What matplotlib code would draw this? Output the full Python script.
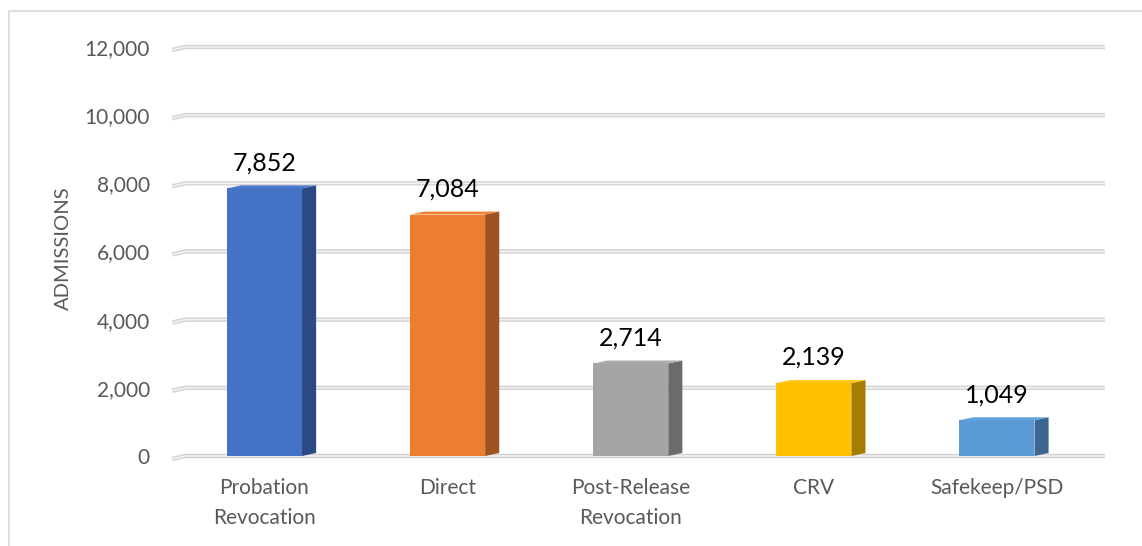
import matplotlib
matplotlib.use("Agg")
import matplotlib.pyplot as plt
from matplotlib.patches import Polygon, Rectangle

categories = ["Probation\nRevocation", "Direct", "Post-Release\nRevocation", "CRV", "Safekeep/PSD"]
admissions = [7852, 7084, 2714, 2139, 1049]
front_colors = ["#4472C4", "#ED7D31", "#A5A5A5", "#FFC000", "#5B9BD5"]
side_colors = ["#2B4A85", "#9E5220", "#6B6B6B", "#A67D00", "#3A6690"]
top_colors = ["#4A78CC", "#F0853A", "#ADADAD", "#FFC512", "#63A2DA"]
y_ticks = [0, 2000, 4000, 6000, 8000, 10000, 12000]

plt.rcParams["font.family"] = ["Lato", "DejaVu Sans"]

W, H = 1142, 546
fig = plt.figure(figsize=(W / 100, H / 100), dpi=100)
ax = fig.add_axes([172 / W, (H - 456) / H, (1105 - 172) / W, (456 - 47) / H])
x_lo, x_hi = -0.505, 4.59
ax.set_xlim(x_lo, x_hi)
ax.set_ylim(0, 12000)

# 3D-ish geometry (data units)
bw = 0.41      # front face width
dx = 0.077     # depth, horizontal
dy = 88        # depth, vertical
wall = -0.434  # where the back wall begins

grid_c = "#d4d4d4"
for t in y_ticks:
    ax.plot([x_lo, wall, x_hi], [t - dy, t, t], color=grid_c, lw=3.2,
            solid_capstyle="butt", zorder=1, clip_on=False)
    ax.plot([x_lo, wall, x_hi], [t - dy, t, t], color="#f3f3f3", lw=1.1,
            solid_capstyle="butt", zorder=1.1, clip_on=False)

for i, v in enumerate(admissions):
    x0, x1 = i - bw / 2, i + bw / 2
    front = Rectangle((x0, 0), bw, v, fc=front_colors[i], ec="none", zorder=3)
    side = Polygon([(x1, 0), (x1 + dx, dy), (x1 + dx, v + dy), (x1, v)],
                   closed=True, fc=side_colors[i], ec="none", zorder=3)
    top = Polygon([(x0, v), (x0 + dx, v + dy), (x1 + dx, v + dy), (x1, v)],
                  closed=True, fc=top_colors[i], ec="none", zorder=3)
    for p in (front, side, top):
        ax.add_patch(p)
    ax.annotate(f"{v:,}", (i, v + dy), xytext=(0, 8), textcoords="offset points",
                ha="center", va="bottom", fontsize=18, color="black", zorder=4)

ax.set_yticks(y_ticks)
ax.set_yticklabels([f"{t:,}" for t in y_ticks])
ax.set_xticks(range(len(categories)))
ax.set_xticklabels(categories, linespacing=1.6)
ax.tick_params(axis="y", length=0, pad=16, labelsize=15, labelcolor="#595959")
ax.tick_params(axis="x", length=0, pad=16, labelsize=15, labelcolor="#595959")
for s in ax.spines.values():
    s.set_visible(False)

fig.text(63 / W, 1 - 248 / H, "ADMISSIONS", rotation=90, ha="center", va="center",
         fontsize=14.5, color="#595959")

# chart frame
fig.patches.append(Rectangle((8.5 / W, -0.1), 2, (H - 10.5) / H + 0.1,
                             transform=fig.transFigure, fill=False,
                             ec="#d9d9d9", lw=1.2))

fig.savefig("out.png", dpi=100)
